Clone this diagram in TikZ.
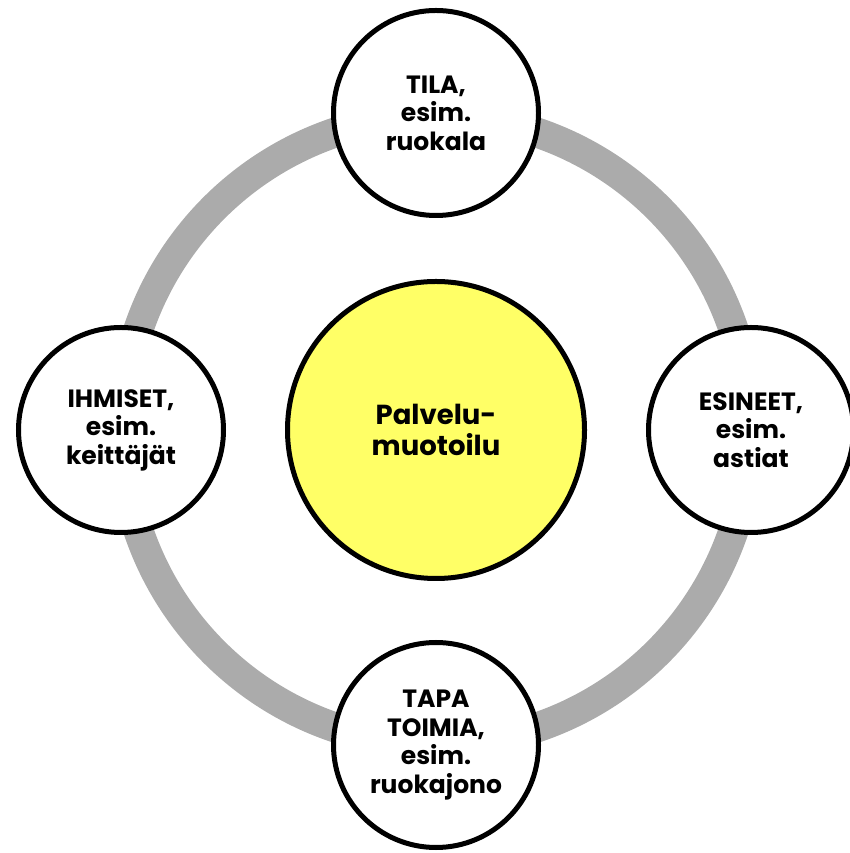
\documentclass[tikz,border=0pt]{standalone}
\usepackage{fontspec}
\setmainfont{Poppins}
\usepackage{tikz}
\usetikzlibrary{positioning}
\definecolor{ringgray}{HTML}{ABABAB}
\definecolor{paleyellow}{HTML}{FFFF66}
\tikzset{ring/.style = {draw = ringgray, line width = 30pt}}
\tikzset{part/.style = {draw, circle, line width = 5pt, fill = white, minimum size = 205pt,
                        inner sep = 0, align = center, font = \bfseries\fontsize{25}{28.5}\selectfont}}
\tikzset{core/.style = {part, fill = paleyellow, minimum size = 297pt,
                        font = \bfseries\fontsize{27.5}{31.5}\selectfont}}

\begin{document}
\begin{tikzpicture}[x=1pt, y=1pt]
      \useasboundingbox (0, 0) rectangle (850, 853);
      \coordinate (c) at (436, 423);
      \draw [ring] (c) circle (314pt);
      \node [core] (palvelu) at (c) {Palvelu-\\muotoilu};
      \node [part] (tila) at (436, 740) {TILA,\\esim.\\ruokala};
      \node [part] (ihmiset) at (121, 423) {IHMISET,\\esim.\\keittäjät};
      \node [part] (esineet) at (751, 423) {ESINEET,\\esim.\\astiat};
      \node [part] (tapa) at (436, 108) {TAPA\\TOIMIA,\\esim.\\ruokajono};
    \end{tikzpicture}
\end{document}
